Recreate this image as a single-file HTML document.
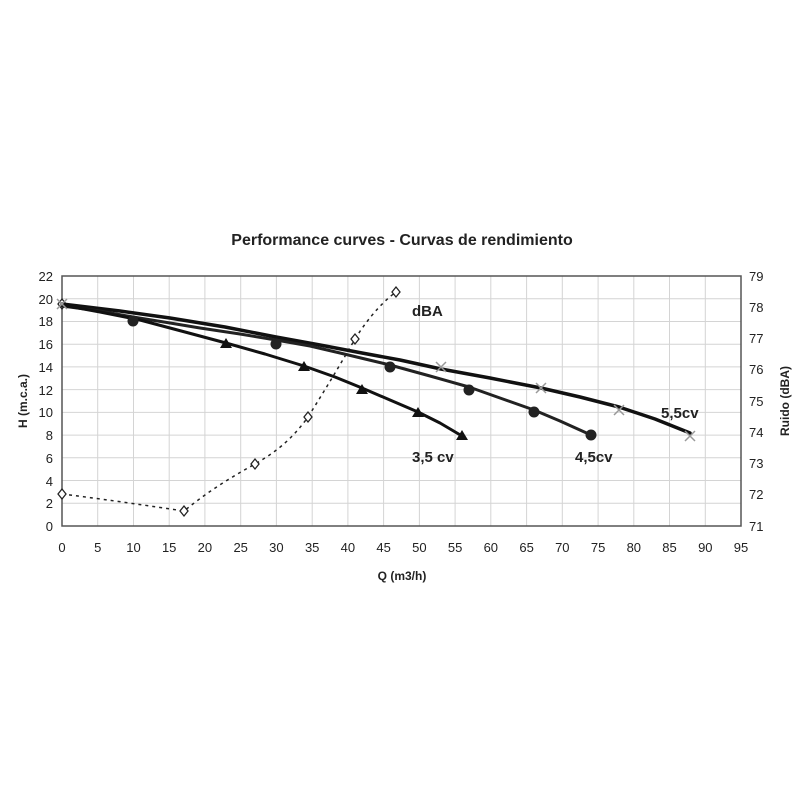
<!DOCTYPE html>
<html><head><meta charset="utf-8"><style>body{margin:0;background:#fff}svg{display:block}text{font-family:"Liberation Sans",Arial,sans-serif}</style></head><body>
<svg width="800" height="800" viewBox="0 0 800 800">
<rect width="800" height="800" fill="#fff"/>
<text x="402" y="245" text-anchor="middle" font-size="16" font-weight="bold" fill="#222">Performance curves - Curvas de rendimiento</text>
<g stroke="#d4d4d4" stroke-width="1">
<line x1="62" x2="741" y1="298.7" y2="298.7"/><line x1="62" x2="741" y1="321.5" y2="321.5"/><line x1="62" x2="741" y1="344.2" y2="344.2"/><line x1="62" x2="741" y1="366.9" y2="366.9"/><line x1="62" x2="741" y1="389.6" y2="389.6"/><line x1="62" x2="741" y1="412.4" y2="412.4"/><line x1="62" x2="741" y1="435.1" y2="435.1"/><line x1="62" x2="741" y1="457.8" y2="457.8"/><line x1="62" x2="741" y1="480.5" y2="480.5"/><line x1="62" x2="741" y1="503.3" y2="503.3"/>
<line y1="276" y2="526" x1="97.7" x2="97.7"/><line y1="276" y2="526" x1="133.5" x2="133.5"/><line y1="276" y2="526" x1="169.2" x2="169.2"/><line y1="276" y2="526" x1="204.9" x2="204.9"/><line y1="276" y2="526" x1="240.7" x2="240.7"/><line y1="276" y2="526" x1="276.4" x2="276.4"/><line y1="276" y2="526" x1="312.2" x2="312.2"/><line y1="276" y2="526" x1="347.9" x2="347.9"/><line y1="276" y2="526" x1="383.6" x2="383.6"/><line y1="276" y2="526" x1="419.4" x2="419.4"/><line y1="276" y2="526" x1="455.1" x2="455.1"/><line y1="276" y2="526" x1="490.8" x2="490.8"/><line y1="276" y2="526" x1="526.6" x2="526.6"/><line y1="276" y2="526" x1="562.3" x2="562.3"/><line y1="276" y2="526" x1="598.1" x2="598.1"/><line y1="276" y2="526" x1="633.8" x2="633.8"/><line y1="276" y2="526" x1="669.5" x2="669.5"/><line y1="276" y2="526" x1="705.3" x2="705.3"/>
</g>
<rect x="62" y="276" width="679" height="250" fill="none" stroke="#555" stroke-width="1.5"/>
<g font-size="13" fill="#222" text-anchor="end">
<text x="53" y="281">22</text><text x="53" y="304">20</text><text x="53" y="326">18</text><text x="53" y="349">16</text><text x="53" y="372">14</text><text x="53" y="395">12</text><text x="53" y="417">10</text><text x="53" y="440">8</text><text x="53" y="463">6</text><text x="53" y="486">4</text><text x="53" y="508">2</text><text x="53" y="531">0</text>
</g>
<g font-size="13" fill="#222">
<text x="749" y="281">79</text><text x="749" y="312">78</text><text x="749" y="343">77</text><text x="749" y="374">76</text><text x="749" y="406">75</text><text x="749" y="437">74</text><text x="749" y="468">73</text><text x="749" y="499">72</text><text x="749" y="531">71</text>
</g>
<g font-size="13" fill="#222" text-anchor="middle">
<text x="62" y="552">0</text><text x="97.7" y="552">5</text><text x="133.5" y="552">10</text><text x="169.2" y="552">15</text><text x="204.9" y="552">20</text><text x="240.7" y="552">25</text><text x="276.4" y="552">30</text><text x="312.2" y="552">35</text><text x="347.9" y="552">40</text><text x="383.6" y="552">45</text><text x="419.4" y="552">50</text><text x="455.1" y="552">55</text><text x="490.8" y="552">60</text><text x="526.6" y="552">65</text><text x="562.3" y="552">70</text><text x="598.1" y="552">75</text><text x="633.8" y="552">80</text><text x="669.5" y="552">85</text><text x="705.3" y="552">90</text><text x="741" y="552">95</text>
</g>
<text x="402" y="580" text-anchor="middle" font-size="12" font-weight="bold" fill="#222">Q (m3/h)</text>
<text transform="translate(27,401) rotate(-90)" text-anchor="middle" font-size="12" font-weight="bold" fill="#222">H (m.c.a.)</text>
<text transform="translate(789,401) rotate(-90)" text-anchor="middle" font-size="12" font-weight="bold" fill="#222">Ruido (dBA)</text>
<path d="M62,494 C110,500 150,506 184,511 C210,490 230,478 255,464 C280,450 295,435 308,417 C325,390 340,365 355,339 C370,315 385,300 396,292" fill="none" stroke="#222" stroke-width="1.5" stroke-dasharray="3,4"/>
<g fill="#fff" stroke="#222" stroke-width="1.3">
<path d="M62,489 l4,5 l-4,5 l-4,-5z"/><path d="M184,506 l4,5 l-4,5 l-4,-5z"/><path d="M255,459 l4,5 l-4,5 l-4,-5z"/><path d="M308,412 l4,5 l-4,5 l-4,-5z"/><path d="M355,334 l4,5 l-4,5 l-4,-5z"/><path d="M396,287 l4,5 l-4,5 l-4,-5z"/><path d="M62,299 l4,5 l-4,5 l-4,-5z"/>
</g>
<g fill="none" stroke-linejoin="round" stroke-linecap="round">
<polyline points="62,304 120,311 170,318 225,327 276,337 320,345 362,353 400,360 441,369 490,378 541,388 580,397 619,407 655,419 690,433" stroke="#111" stroke-width="3.5"/>
<polyline points="62,306 100,311 133,317 170,323 200,328 240,334 276,340 310,346 340,353 365,359 390,365 430,376 469,387 500,398 534,410 560,421 591,435" stroke="#222" stroke-width="3"/>
<polyline points="62,305 100,312 140,320 185,332 226,343 265,354 304,366 335,377 362,388 390,400 418,412 440,423 462,436" stroke="#111" stroke-width="3"/>
</g>
<g stroke="#999" stroke-width="1.5"><path d="M436,362 l10,10 M446,362 l-10,10"/><path d="M536,383 l10,10 M546,383 l-10,10"/><path d="M614,405 l10,10 M624,405 l-10,10"/><path d="M685,431 l10,10 M695,431 l-10,10"/><path d="M57,299 l10,10 M67,299 l-10,10"/></g>
<g fill="#222"><circle cx="133" cy="321" r="5.5"/><circle cx="276" cy="344" r="5.5"/><circle cx="390" cy="367" r="5.5"/><circle cx="469" cy="390" r="5.5"/><circle cx="534" cy="412" r="5.5"/><circle cx="591" cy="435" r="5.5"/></g>
<g fill="#111"><path d="M226,338 l6,10 h-12z"/><path d="M304,361 l6,10 h-12z"/><path d="M362,384 l6,10 h-12z"/><path d="M418,407 l6,10 h-12z"/><path d="M462,430 l6,10 h-12z"/></g>
<g font-size="15" font-weight="bold" fill="#222">
<text x="412" y="316">dBA</text><text x="412" y="462">3,5 cv</text><text x="575" y="462">4,5cv</text><text x="661" y="418">5,5cv</text>
</g>
</svg>
</body></html>
